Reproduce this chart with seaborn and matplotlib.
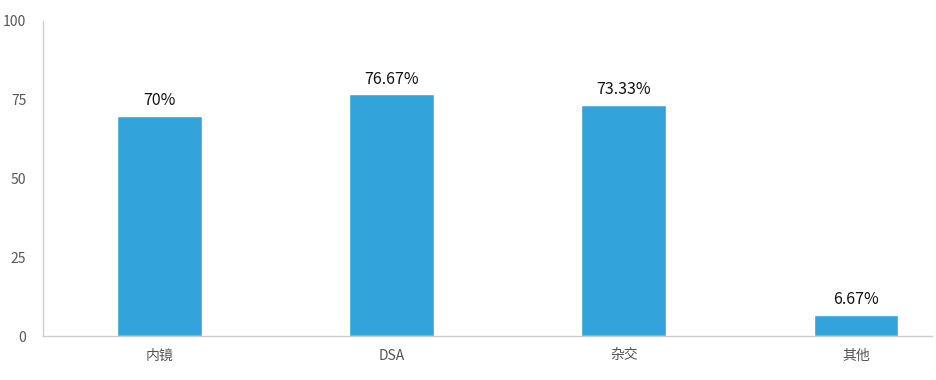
import pandas as pd
import seaborn as sns
import matplotlib.pyplot as plt
from matplotlib.ticker import FixedLocator

# Data
categories = ["内镜", "DSA", "杂交", "其他"]
values = [70, 76.67, 73.33, 6.67]
labels = ["70%", "76.67%", "73.33%", "6.67%"]
yticks = [0, 25, 50, 75, 100]

df = pd.DataFrame({"category": categories, "value": values})

sns.set_style("white")
plt.rcParams["font.family"] = ["Noto Sans CJK SC", "DejaVu Sans"]

fig = plt.figure(figsize=(9.36, 3.8), dpi=100)
ax = fig.add_axes([43 / 936, 44 / 380, 889 / 936, 315 / 380])

sns.barplot(
    data=df,
    x="category",
    y="value",
    color="#33A3DC",
    saturation=1,
    width=0.365,
    ax=ax
)

ax.bar_label(ax.containers[0], labels=labels, padding=5,
             fontsize=11.5, color="#111111")

# Axes styling
ax.set_ylim(0, 100)
ax.set_xlim(-0.5, 3.327)
ax.set_yticks(yticks)
ax.set_xlabel("")
ax.set_ylabel("")

for side in ["top", "right"]:
    ax.spines[side].set_visible(False)
for side in ["left", "bottom"]:
    ax.spines[side].set_color("#cccccc")
    ax.spines[side].set_linewidth(1)

ax.tick_params(axis="y", length=0, pad=12, labelsize=10, labelcolor="#555555")
ax.tick_params(axis="x", which="major", length=0, pad=9, labelsize=10,
               labelcolor="#555555")
ax.xaxis.set_minor_locator(FixedLocator([-0.5, 0.5, 1.5, 2.5]))
ax.tick_params(axis="x", which="minor", length=7.5, width=1,
               color="#cccccc", direction="out")

fig.savefig("out.png", dpi=100)
